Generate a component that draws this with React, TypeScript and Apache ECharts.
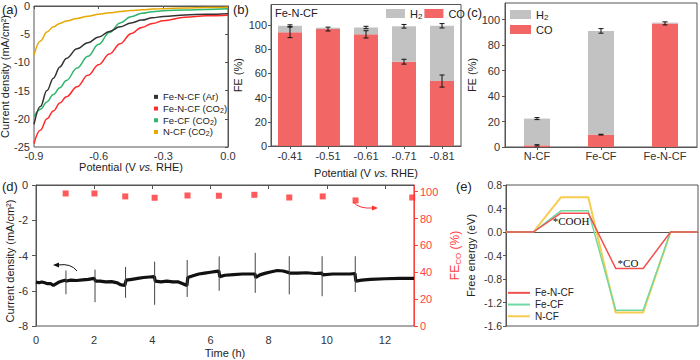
import React, { useEffect, useRef } from "react";
import * as echarts from "echarts";

const FONT = "'Liberation Sans', Arial, sans-serif";
const AX = "#555";
const TXT = "#222";

// ---- (a) LSV ----
const aPotential = [-0.9, -0.87, -0.84, -0.81, -0.78, -0.75, -0.7, -0.65, -0.6, -0.55, -0.5, -0.45, -0.4, -0.35, -0.3, -0.2, -0.1, 0];
const aFeNCFAr = [-21.0, -17.8, -15.0, -12.8, -10.8, -9.3, -7.6, -6.5, -5.5, -4.5, -3.7, -3.0, -2.5, -2.1, -1.85, -1.6, -1.45, -1.36];
const aFeNCFCO2 = [-24.4, -22.0, -20.0, -18.6, -17.2, -16.1, -14.3, -12.3, -10.4, -8.5, -6.7, -4.9, -3.8, -3.1, -2.6, -2.0, -1.75, -1.65];
const aFeCF = [-19.6, -18.3, -17.0, -15.7, -14.5, -13.2, -11.0, -8.9, -6.8, -4.7, -3.0, -1.9, -1.3, -1.0, -0.85, -0.7, -0.6, -0.5];
const aNCF = [-8.7, -6.2, -4.6, -3.7, -3.1, -2.65, -2.2, -1.8, -1.45, -1.2, -0.98, -0.8, -0.68, -0.55, -0.47, -0.36, -0.28, -0.22];

// ---- (b) FE vs potential ----
const bCats = ["-0.41", "-0.51", "-0.61", "-0.71", "-0.81"];
const bCO = [94.0, 96.7, 92.3, 69.7, 53.7];
const bH2 = [5.4, 1.1, 5.7, 29.3, 45.7];
const bCOErr = [4.4, 1.6, 3.0, 2.0, 5.0];
const bTotErr = [0.8, 0, 1.0, 1.5, 1.8];

// ---- (c) FE by catalyst ----
const cCats = ["N-CF", "Fe-CF", "Fe-N-CF"];
const cCO = [1.3, 9.7, 97.0];
const cH2 = [21.0, 81.4, 0.6];
const cCOErr = [0.5, 0.3, 1.2];
const cTotErr = [0.8, 1.8, 0];

// ---- (d) stability ----
const dTrace: [number, number][] = [
  [0, -5.5], [0.1, -5.55], [0.2, -5.5], [0.3, -5.55], [0.4, -5.6], [0.5, -5.6], [0.6, -5.7], [0.7, -5.6], [0.8, -5.5], [0.9, -5.45], [1.0, -5.4],
  [1.05, -5.45], [1.2, -5.4], [1.4, -5.42], [1.6, -5.38], [1.8, -5.35], [2.0, -5.3],
  [2.05, -5.45], [2.2, -5.45], [2.4, -5.5], [2.6, -5.48], [2.8, -5.55], [2.9, -5.65], [3.05, -5.7],
  [3.1, -5.4], [3.3, -5.35], [3.5, -5.3], [3.7, -5.25], [3.9, -5.22], [4.07, -5.2],
  [4.1, -5.45], [4.3, -5.5], [4.5, -5.45], [4.7, -5.5], [4.9, -5.5], [5.05, -5.6], [5.19, -5.7],
  [5.22, -5.25], [5.4, -5.15], [5.6, -5.05], [5.8, -5.0], [6.0, -4.95], [6.2, -4.9], [6.29, -4.88],
  [6.32, -5.2], [6.5, -5.12], [6.8, -5.08], [7.1, -5.05], [7.3, -5.05], [7.53, -5.05],
  [7.56, -5.25], [7.7, -5.1], [7.9, -5.0], [8.1, -4.92], [8.3, -4.85], [8.5, -4.88], [8.7, -4.97],
  [8.72, -5.0], [9.0, -5.0], [9.3, -4.98], [9.6, -5.02], [9.83, -5.0],
  [9.86, -5.1], [10.2, -5.05], [10.5, -5.05], [10.8, -5.05], [10.97, -5.02],
  [11.0, -5.45], [11.2, -5.4], [11.5, -5.35], [12.0, -5.32], [12.5, -5.3], [13.0, -5.3],
];
const dSpikeT = [1.03, 2.03, 3.08, 4.08, 5.2, 6.3, 7.54, 8.71, 9.84, 10.98];
const dSpikeUp = [-4.85, -4.8, -4.65, -4.35, -4.25, -4.05, -3.85, -4.04, -4.04, -4.04];
const dSpikeDown = [-6.2, -6.65, -6.4, -6.8, -6.35, -6.0, -6.12, -6.2, -6.31, -6.07];
const dFETime = [1.02, 2.01, 3.07, 4.08, 5.21, 6.29, 7.51, 8.71, 9.86, 10.99, 12.94];
const dFE = [98.7, 98.7, 96.5, 95.5, 97.2, 97.0, 97.7, 95.7, 96.5, 93.5, 95.7];

// ---- (e) free energy ----
const eFeNCF = [0, 0.32, -0.62, 0];
const eFeCF = [0, 0.36, -1.33, 0];
const eNCF = [0, 0.59, -1.37, 0];

const RED = "#f26666";
const GRAY = "#c2c2c2";

const steps = (lv: number[]) => {
  const out: number[][] = [];
  lv.forEach((v, i) => {
    out.push([2 * i, v]);
    out.push([2 * i + 1, v]);
  });
  return out;
};

const errRender = (params: any, api: any) => {
  const x = api.value(0);
  const lo = api.value(1);
  const hi = api.value(2);
  const p1 = api.coord([x, lo]);
  const p2 = api.coord([x, hi]);
  const w = 2.5;
  const style = { stroke: "#111", lineWidth: 1 };
  return {
    type: "group",
    children: [
      { type: "line", shape: { x1: p1[0], y1: p1[1], x2: p2[0], y2: p2[1] }, style },
      { type: "line", shape: { x1: p1[0] - w, y1: p1[1], x2: p1[0] + w, y2: p1[1] }, style },
      { type: "line", shape: { x1: p2[0] - w, y1: p2[1], x2: p2[0] + w, y2: p2[1] }, style },
    ],
  };
};

const spikeRender = (params: any, api: any) => {
  const t = api.value(0);
  const p1 = api.coord([t, api.value(1)]);
  const p2 = api.coord([t, api.value(2)]);
  return {
    type: "line",
    shape: { x1: p1[0], y1: p1[1], x2: p2[0], y2: p2[1] },
    style: { stroke: "#444", lineWidth: 1 },
  };
};

const tickLabel = { fontSize: 11, color: "#333", fontFamily: FONT };
const nameStyle = {
  fontSize: 11,
  color: TXT,
  fontFamily: FONT,
  rich: { i: { fontStyle: "italic", fontSize: 11, color: TXT, fontFamily: FONT } },
};
const axLine = { show: true, lineStyle: { color: AX, width: 1 } };
const tick = (len = 3) => ({ show: true, inside: false, length: len, lineStyle: { color: AX } });
const gridBase = { show: true, borderColor: AX, borderWidth: 1, backgroundColor: "transparent", containLabel: false, outerBoundsMode: "none" };

const sub = (s: string) => s.replace("CO2", "CO{s|2}").replace(/^H2$/, "H{s|2}");
const legendRich = {
  s: { fontSize: 8, color: TXT, fontFamily: FONT, padding: [5, 0, 0, 0] },
};

export default function App() {
  const ref = useRef<HTMLDivElement>(null);
  useEffect(() => {
    const chart = echarts.init(ref.current!, null, { renderer: "svg" });
    const fe100 = [0, 20, 40, 60, 80, 100];
    const option: any = {
      animation: false,
      textStyle: { fontFamily: FONT },
      grid: [
        { ...gridBase, left: 34, top: 6, width: 194, height: 141 },
        { ...gridBase, left: 271, top: 4.5, width: 190, height: 141.5 },
        { ...gridBase, left: 505, top: 3, width: 192, height: 144 },
        { ...gridBase, left: 36, top: 185, width: 378, height: 141 },
        { ...gridBase, left: 506, top: 185, width: 192, height: 141 },
      ],
      xAxis: [
        {
          type: "value", gridIndex: 0, min: -0.9, max: 0, interval: 0.3,
          axisLine: axLine, axisTick: tick(3), splitLine: { show: false },
          axisLabel: { ...tickLabel, margin: 3, formatter: (v: number) => v.toFixed(1) },
          name: "Potential (V {i|vs.} RHE)", nameLocation: "middle", nameGap: 12.5, nameTextStyle: nameStyle,
        },
        {
          type: "category", gridIndex: 1, data: bCats,
          axisLine: axLine, axisTick: { ...tick(3), alignWithLabel: true },
          axisLabel: { ...tickLabel, margin: 4 },
          name: "Potential (V {i|vs.} RHE)", nameLocation: "middle", nameGap: 21, nameTextStyle: nameStyle,
        },
        {
          type: "category", gridIndex: 2, data: cCats,
          axisLine: axLine, axisTick: { ...tick(3), alignWithLabel: true },
          axisLabel: { ...tickLabel, margin: 3 },
        },
        {
          type: "value", gridIndex: 3, min: 0, max: 13,
          axisLine: axLine,
          axisTick: { ...tick(4), customValues: [0, 2, 4, 6, 8, 10, 12] },
          splitLine: { show: false },
          axisLabel: { ...tickLabel, margin: 8, customValues: [0, 2, 4, 6, 8, 10, 12] },
          name: "Time (h)", nameLocation: "middle", nameGap: 21, nameTextStyle: nameStyle,
        },
        {
          type: "value", gridIndex: 4, min: 0, max: 7,
          axisLine: axLine, axisTick: { show: false }, axisLabel: { show: false }, splitLine: { show: false },
        },
      ],
      yAxis: [
        {
          type: "value", gridIndex: 0, min: -25, max: 0, interval: 5,
          axisLine: axLine, axisTick: tick(3), splitLine: { show: false },
          axisLabel: { ...tickLabel, margin: 4 },
          name: "Current density (mA/cm²)", nameLocation: "middle", nameGap: 20, nameRotate: 90, nameTextStyle: nameStyle,
        },
        {
          type: "value", gridIndex: 1, min: 0, max: 117,
          axisLine: axLine, axisTick: { ...tick(3), customValues: fe100 }, splitLine: { show: false },
          axisLabel: { ...tickLabel, margin: 4, customValues: fe100 },
          name: "FE (%)", nameLocation: "middle", nameGap: 28, nameRotate: 90, nameTextStyle: nameStyle,
        },
        {
          type: "value", gridIndex: 2, min: 0, max: 113,
          axisLine: axLine, axisTick: { ...tick(3), customValues: fe100 }, splitLine: { show: false },
          axisLabel: { ...tickLabel, margin: 5, customValues: fe100 },
          name: "FE (%)", nameLocation: "middle", nameGap: 22, nameRotate: 90, nameTextStyle: nameStyle,
        },
        {
          type: "value", gridIndex: 3, min: -8, max: 0, interval: 2,
          axisLine: axLine, axisTick: tick(4), splitLine: { show: false },
          axisLabel: { ...tickLabel, margin: 8 },
        },
        {
          type: "value", gridIndex: 3, position: "right", min: 0, max: 105,
          axisLine: { show: true, lineStyle: { color: "#ff4040", width: 1 } },
          axisTick: { show: true, length: 4, lineStyle: { color: "#ff4040" }, customValues: fe100 },
          splitLine: { show: false },
          axisLabel: { ...tickLabel, color: "#ff4040", margin: 6, customValues: fe100 },
          name: "FE{s|CO} (%)", nameLocation: "middle", nameGap: 24, nameRotate: 90,
          nameTextStyle: {
            fontSize: 12, color: "#ff4040", fontFamily: FONT,
            rich: { s: { fontSize: 8, color: "#ff4040", fontFamily: FONT, padding: [6, 0, 0, 0] } },
          },
        },
        {
          type: "value", gridIndex: 4, min: -1.6, max: 0.8, interval: 0.4,
          axisLine: axLine, axisTick: tick(3), splitLine: { show: false },
          axisLabel: { ...tickLabel, fontSize: 10.5, margin: 4, formatter: (v: number) => v.toFixed(1) },
          name: "Free energy (eV)", nameLocation: "middle", nameGap: 30, nameRotate: 90, nameTextStyle: nameStyle,
        },
      ],
      legend: [
        {
          data: ["Fe-N-CF (Ar)", "Fe-N-CF (CO2)", "Fe-CF (CO2)", "N-CF (CO2)"],
          orient: "vertical", left: 154, top: 91, padding: 0, itemGap: 0,
          icon: "rect", itemWidth: 4, itemHeight: 4, selectedMode: false,
          formatter: sub,
          textStyle: { fontSize: 9.5, color: TXT, fontFamily: FONT, lineHeight: 11.7, rich: { s: { fontSize: 7, color: TXT, fontFamily: FONT, padding: [4, 0, 0, 0] } } },
        },
        {
          data: ["H2", "CO"], orient: "horizontal", left: 386, top: 8, padding: 0, itemGap: 2,
          icon: "rect", itemWidth: 19, itemHeight: 9, selectedMode: false, formatter: sub,
          textStyle: { fontSize: 11, color: TXT, fontFamily: FONT, rich: legendRich },
        },
        {
          data: ["H2", "CO"], orient: "vertical", left: 510, top: 9, padding: 0, itemGap: 3,
          icon: "rect", itemWidth: 21, itemHeight: 9, selectedMode: false, formatter: sub,
          textStyle: { fontSize: 11, color: TXT, fontFamily: FONT, rich: legendRich },
        },
        {
          data: ["Fe-N-CF", "Fe-CF", "N-CF"], orient: "vertical", left: 508, top: 287, padding: 0, itemGap: 0,
          icon: "rect", itemWidth: 22, itemHeight: 2, selectedMode: false,
          textStyle: { fontSize: 10, color: TXT, fontFamily: FONT, lineHeight: 11.7 },
        },
      ],
      series: [
        // (a)
        ...[
          ["N-CF (CO2)", aNCF, "#e6a800"],
          ["Fe-CF (CO2)", aFeCF, "#2fb56c"],
          ["Fe-N-CF (Ar)", aFeNCFAr, "#333333"],
          ["Fe-N-CF (CO2)", aFeNCFCO2, "#ff2a2a"],
        ].map(([name, arr, color]: any) => ({
          type: "line", name, xAxisIndex: 0, yAxisIndex: 0,
          data: aPotential.map((p, i) => [p, arr[i]]),
          showSymbol: false, symbol: "none", smooth: 0.4, smoothMonotone: "x",
          lineStyle: { color, width: 1.5 }, itemStyle: { color },
        })),
        // (b)
        {
          type: "bar", name: "CO", xAxisIndex: 1, yAxisIndex: 1, stack: "b", data: bCO,
          barWidth: 24, itemStyle: { color: RED },
        },
        {
          type: "bar", name: "H2", xAxisIndex: 1, yAxisIndex: 1, stack: "b", data: bH2,
          barWidth: 24, itemStyle: { color: GRAY },
        },
        {
          type: "custom", xAxisIndex: 1, yAxisIndex: 1, z: 5, renderItem: errRender,
          data: [
            ...bCO.map((v, i) => [i, v - bCOErr[i], v + bCOErr[i]]),
            ...bCO.map((v, i) => [i, v + bH2[i] - bTotErr[i], v + bH2[i] + bTotErr[i]]).filter((d, i) => bTotErr[i] > 0),
          ],
        },
        // (c)
        {
          type: "bar", name: "CO", xAxisIndex: 2, yAxisIndex: 2, stack: "c", data: cCO,
          barWidth: 26, itemStyle: { color: RED },
        },
        {
          type: "bar", name: "H2", xAxisIndex: 2, yAxisIndex: 2, stack: "c", data: cH2,
          barWidth: 26, itemStyle: { color: GRAY },
        },
        {
          type: "custom", xAxisIndex: 2, yAxisIndex: 2, z: 5, renderItem: errRender,
          data: [
            ...cCO.map((v, i) => [i, v - cCOErr[i], v + cCOErr[i]]),
            ...cCO.map((v, i) => [i, v + cH2[i] - cTotErr[i], v + cH2[i] + cTotErr[i]]).filter((d, i) => cTotErr[i] > 0),
          ],
        },
        // (d)
        {
          type: "line", name: "j", xAxisIndex: 3, yAxisIndex: 3, data: dTrace,
          showSymbol: false, symbol: "none", lineStyle: { color: "#111", width: 3.2 },
        },
        {
          type: "custom", xAxisIndex: 3, yAxisIndex: 3, z: 4, renderItem: spikeRender,
          data: dSpikeT.map((t, i) => [t, dSpikeUp[i], dSpikeDown[i]]),
        },
        {
          type: "scatter", name: "FE", xAxisIndex: 3, yAxisIndex: 4,
          data: dFETime.map((t, i) => [t, dFE[i]]),
          symbol: "rect", symbolSize: 6, itemStyle: { color: "#ff3030" }, z: 6,
        },
        // (e)
        ...[
          ["N-CF", eNCF, "#f7cd4f", 2],
          ["Fe-CF", eFeCF, "#6fd9a2", 1.5],
          ["Fe-N-CF", eFeNCF, "#f25050", 1.5],
        ].map(([name, lv, color, w]: any) => ({
          type: "line", name, xAxisIndex: 4, yAxisIndex: 5, data: steps(lv),
          showSymbol: false, symbol: "none", lineStyle: { color, width: w }, itemStyle: { color },
        })),
      ],
      graphic: [
        { type: "text", x: 2, y: 9, style: { text: "(a)", font: `13px ${FONT}`, fill: TXT, textVerticalAlign: "middle" } },
        { type: "text", x: 233, y: 9, style: { text: "(b)", font: `13px ${FONT}`, fill: TXT, textVerticalAlign: "middle" } },
        { type: "text", x: 467, y: 12, style: { text: "(c)", font: `13px ${FONT}`, fill: TXT, textVerticalAlign: "middle" } },
        { type: "text", x: 2, y: 186, style: { text: "(d)", font: `13px ${FONT}`, fill: TXT, textVerticalAlign: "middle" } },
        { type: "text", x: 456, y: 186, style: { text: "(e)", font: `13px ${FONT}`, fill: TXT, textVerticalAlign: "middle" } },
        {
          type: "text", x: 10, y: 261, rotation: Math.PI / 2,
          style: { text: "Current density (mA/cm²)", font: `11px ${FONT}`, fill: TXT, textAlign: "center", textVerticalAlign: "middle" },
        },
        { type: "text", x: 275, y: 13, style: { text: "Fe-N-CF", font: `11px ${FONT}`, fill: TXT, textVerticalAlign: "middle" } },
        { type: "text", x: 571, y: 221, style: { text: "*COOH", font: `11px 'Liberation Serif', serif`, fill: "#111", textAlign: "center", textVerticalAlign: "middle" } },
        { type: "text", x: 628, y: 263, style: { text: "*CO", font: `11px 'Liberation Serif', serif`, fill: "#111", textAlign: "center", textVerticalAlign: "middle" } },
        { type: "bezierCurve", shape: { x1: 77, y1: 271, x2: 58, y2: 265, cpx1: 71, cpy1: 263 }, style: { stroke: "#111", lineWidth: 1, fill: null } },
        { type: "polygon", shape: { points: [[53, 265], [59, 262.5], [59, 267.5]] }, style: { fill: "#111" } },
        { type: "bezierCurve", shape: { x1: 353, y1: 202, x2: 373, y2: 208, cpx1: 359, cpy1: 209 }, style: { stroke: "#ff3030", lineWidth: 1, fill: null } },
        { type: "polygon", shape: { points: [[378, 208], [372, 205.5], [372, 210.5]] }, style: { fill: "#ff3030" } },
      ],
    };
    chart.setOption(option);
    return () => chart.dispose();
  }, []);
  return <div ref={ref} style={{ position: "absolute", left: 0, top: 0, width: 700, height: 360 }} />;
}
